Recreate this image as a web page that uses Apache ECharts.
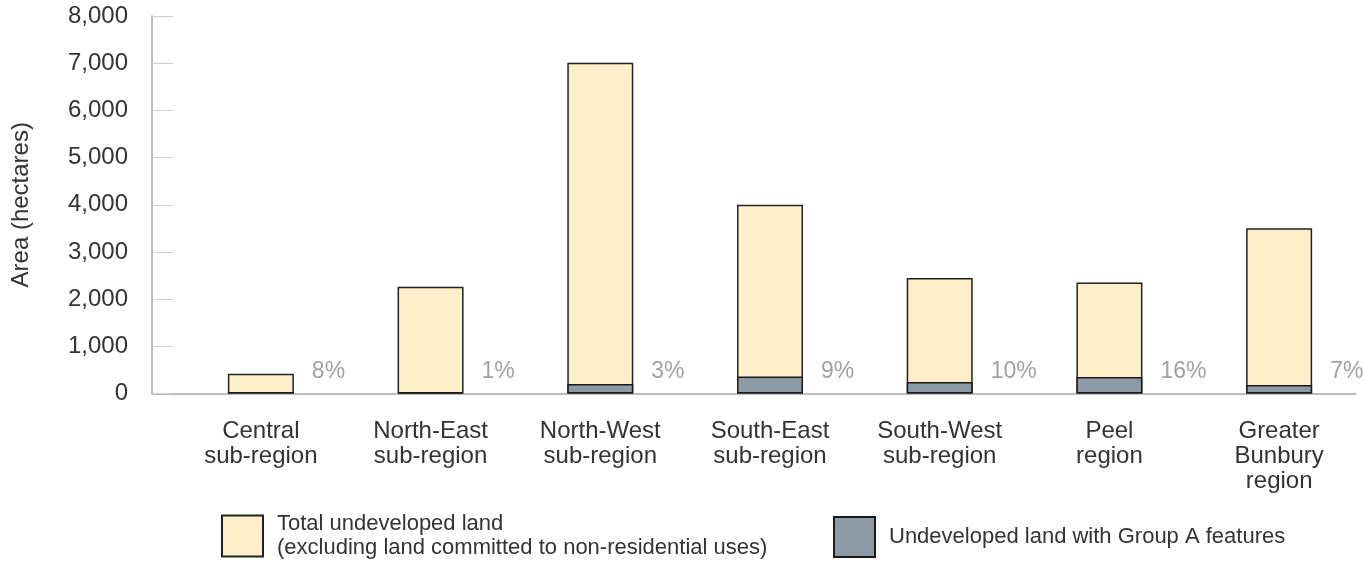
<!DOCTYPE html>
<html>
<head>
<meta charset="utf-8">
<script src="https://cdn.jsdelivr.net/npm/echarts@6/dist/echarts.min.js"></script>
<style>
  html, body { margin: 0; padding: 0; background: #ffffff; }
  #chart { width: 1364px; height: 565px; }
</style>
</head>
<body>
<div id="chart"></div>
<script>
// Regions shown along the horizontal axis
const categories = [
  'Central\nsub-region',
  'North-East\nsub-region',
  'North-West\nsub-region',
  'South-East\nsub-region',
  'South-West\nsub-region',
  'Peel\nregion',
  'Greater\nBunbury\nregion'
];

// Total undeveloped land (hectares)
const totalUndeveloped = [420, 2260, 7010, 4000, 2450, 2350, 3500];

// Undeveloped land with Group A features (hectares)
const groupAFeatures = [34, 23, 200, 360, 245, 350, 180];

// Share of undeveloped land with Group A features
const shareLabels = ['8%', '1%', '3%', '9%', '10%', '16%', '7%'];

// Height (hectares) at which the share labels sit
const shareLabelLevel = [470, 470, 470, 470, 470, 470, 470];

const yTicks = { min: 0, max: 8000, interval: 1000 };

const TOTAL_NAME = 'Total undeveloped land\n(excluding land committed to non-residential uses)';
const GROUP_A_NAME = 'Undeveloped land with Group A features';

const FONT = '"Liberation Sans", Arial, Helvetica, sans-serif';
const TEXT = '#333333';

const chart = echarts.init(document.getElementById('chart'), null, { renderer: 'canvas' });

const plotTop = 16;
const plotHeight = 377.5;

const legendText = { fontSize: 22, lineHeight: 24, color: TEXT, fontFamily: FONT, padding: [0, 0, 0, 9] };

function shareLevelData() {
  return shareLabelLevel.map((v, i) => [i, v]);
}

chart.setOption({
  animation: false,
  backgroundColor: '#ffffff',
  textStyle: { fontFamily: FONT },
  grid: [
    // frame grid: carries the visible axis lines and value labels
    { left: 152, right: 8, top: plotTop, height: plotHeight, containLabel: false },
    // data grid: carries the bars and category labels
    { left: 176, width: 1191, top: plotTop, height: plotHeight, containLabel: false }
  ],
  xAxis: [
    {
      gridIndex: 0, type: 'value', min: 0, max: 1,
      axisLine: { show: true, lineStyle: { color: '#a6a6a6', width: 1.5 } },
      axisTick: { show: false }, axisLabel: { show: false }, splitLine: { show: false }
    },
    {
      gridIndex: 1, type: 'category', data: categories,
      axisLine: { show: false }, axisTick: { show: false },
      axisLabel: {
        interval: 0, margin: 25, fontSize: 24, lineHeight: 25,
        color: TEXT, fontFamily: FONT, align: 'center'
      }
    }
  ],
  yAxis: [
    {
      gridIndex: 0, type: 'value', min: yTicks.min, max: yTicks.max, interval: yTicks.interval,
      name: 'Area (hectares)', nameLocation: 'middle', nameGap: 119, nameRotate: 90,
      nameTextStyle: { fontSize: 24, color: TEXT, fontFamily: FONT },
      axisLine: { show: true, lineStyle: { color: '#a6a6a6', width: 1.5 } },
      axisTick: { show: true, inside: true, length: 21, lineStyle: { color: '#cfcfcf', width: 1 } },
      axisLabel: {
        margin: 24, fontSize: 24, color: TEXT, fontFamily: FONT,
        formatter: v => v.toLocaleString('en-US')
      },
      splitLine: { show: false }
    },
    {
      gridIndex: 1, type: 'value', min: yTicks.min, max: yTicks.max, interval: yTicks.interval,
      show: false, splitLine: { show: false }
    }
  ],
  legend: [
    {
      left: 221, top: 512, padding: 0,
      itemWidth: 41, itemHeight: 41, icon: 'rect',
      data: [TOTAL_NAME],
      textStyle: legendText,
      selectedMode: false
    },
    {
      left: 833, top: 516, padding: 0,
      itemWidth: 41, itemHeight: 40, icon: 'rect',
      data: [GROUP_A_NAME],
      textStyle: legendText,
      selectedMode: false
    }
  ],
  series: [
    {
      name: TOTAL_NAME,
      type: 'bar', xAxisIndex: 1, yAxisIndex: 1,
      data: totalUndeveloped,
      barWidth: 66, barGap: '-100%',
      itemStyle: { color: '#fdefc9', borderColor: '#222222', borderWidth: 1.5 }
    },
    {
      name: GROUP_A_NAME,
      type: 'bar', xAxisIndex: 1, yAxisIndex: 1,
      data: groupAFeatures,
      barWidth: 66, barGap: '-100%',
      itemStyle: { color: '#8d99a5', borderColor: '#1a1a1a', borderWidth: 1.5 }
    },
    {
      name: 'share',
      type: 'scatter', xAxisIndex: 1, yAxisIndex: 1,
      symbolSize: 0, silent: true,
      data: shareLevelData(),
      label: {
        show: true, position: 'inside', align: 'left', verticalAlign: 'middle',
        offset: [51, 0], fontSize: 23, color: '#8a8a8a', fontFamily: FONT,
        formatter: p => shareLabels[p.dataIndex]
      }
    }
  ]
});
</script>
</body>
</html>
